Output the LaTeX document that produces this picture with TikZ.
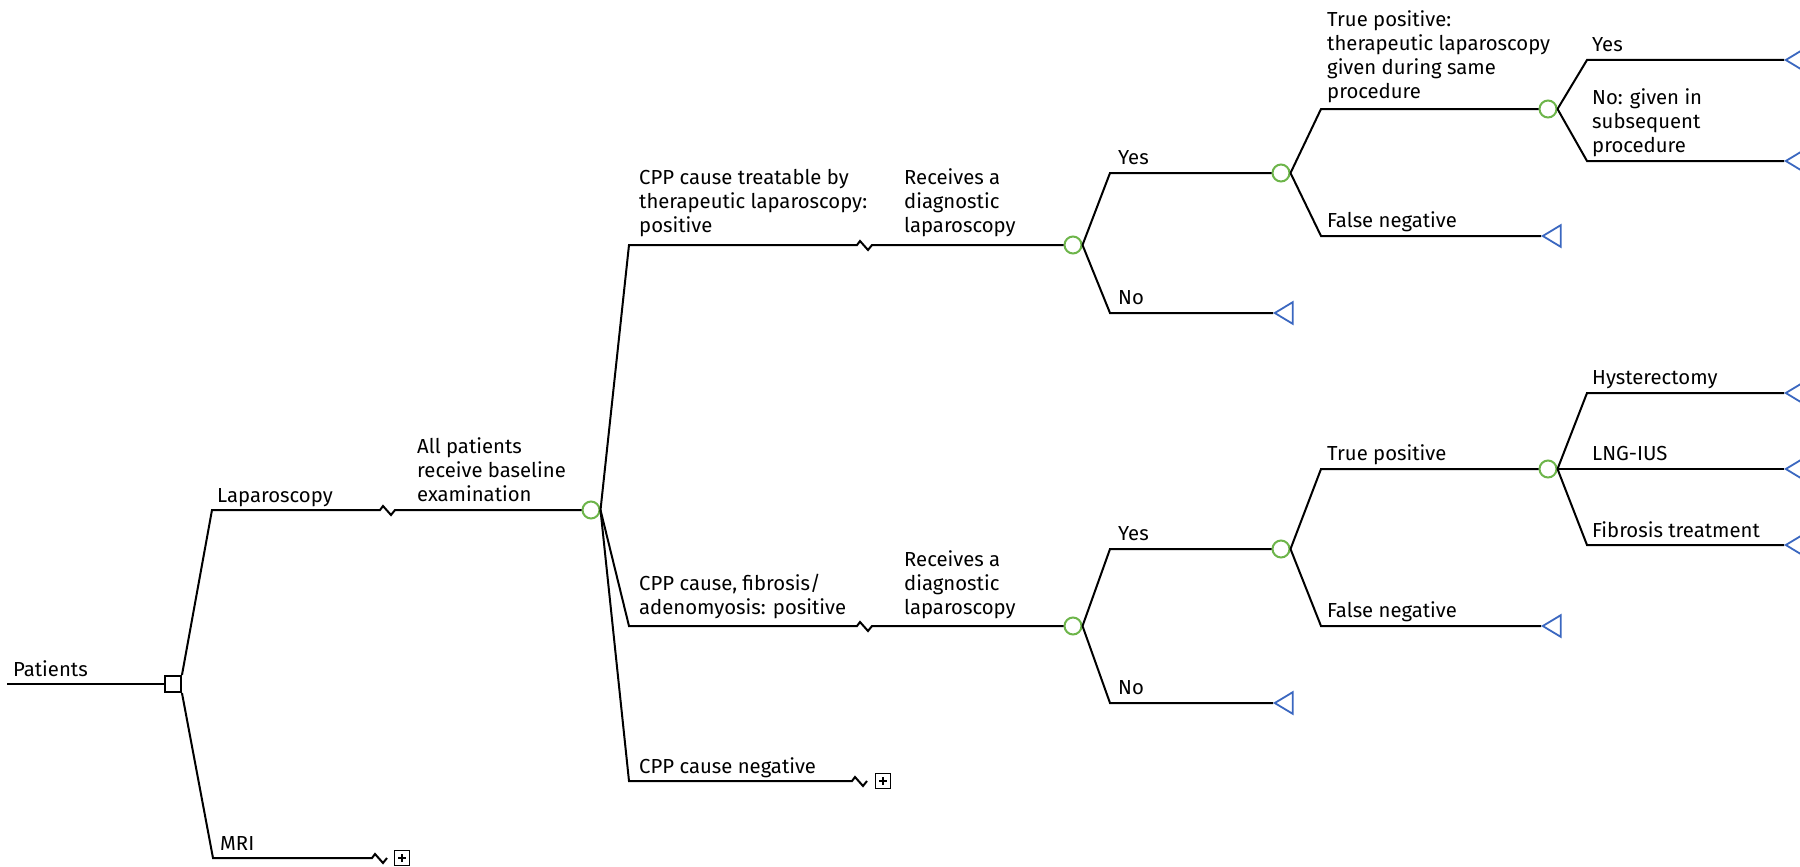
\documentclass[tikz,border=0pt]{standalone}
\usepackage{fontspec}
\setmainfont{Fira Sans}
\usetikzlibrary{shapes.geometric}
\definecolor{cgreen}{HTML}{6DB54A}
\definecolor{tblue}{HTML}{3A67C0}
\begin{document}
\begin{tikzpicture}[x=1pt,y=-1pt,
  edge/.style={line width=2pt},
  chance/.style={circle, draw=cgreen, line width=2pt, fill=white, minimum size=17pt, inner sep=0pt},
  decide/.style={rectangle, draw, line width=1.9pt, fill=white, minimum size=16pt, inner sep=0pt},
  term/.style={isosceles triangle, isosceles triangle apex angle=62, shape border rotate=180,
    draw=tblue, line width=1.8pt, fill=white, inner sep=0pt, minimum height=18pt, anchor=apex},
  subtree/.style={rectangle, draw, line width=1.6pt, minimum size=15pt, inner sep=0pt,
    path picture={\draw[line width=1.5pt]
      ([xshift=-4pt]path picture bounding box.center) -- ([xshift=4pt]path picture bounding box.center)
      ([yshift=-4pt]path picture bounding box.center) -- ([yshift=4pt]path picture bounding box.center);}},
  lbl/.style={anchor=base west, inner sep=0pt, align=left, font=\fontsize{20.3}{24}\selectfont}]
\useasboundingbox (0,0) rectangle (1800,867);

% decision, chance and subtree nodes
\coordinate (start) at (7,684);
\node[decide] (dec) at (173,684) {};
\node[chance] (A) at (591,510) {};
\node[chance] (B) at (1073,245) {};
\node[chance] (C) at (1073,626) {};
\node[chance] (D) at (1281,173) {};
\node[chance] (D2) at (1281,549) {};
\node[chance] (E) at (1548,109) {};
\node[chance] (F) at (1548,469) {};
\node[subtree] (mri) at (402,858) {};
\node[subtree] (neg) at (883,781) {};
\coordinate (mriend) at (387,858);
\coordinate (negend) at (867,781);

% terminal nodes
\node[term] (tBno) at (1273,313) {};
\node[term] (tCno) at (1273,703) {};
\node[term] (tDfn) at (1541,236) {};
\node[term] (tD2fn) at (1541,626) {};
\node[term] (tEyes) at (1784,60) {};
\node[term] (tEno) at (1784,161) {};
\node[term] (tH) at (1784,393) {};
\node[term] (tL) at (1784,469) {};
\node[term] (tFb) at (1784,545) {};

% branches
\draw[edge] (start) -- (dec.west);
\draw[edge] (dec.north east) -- (212,510) -- (380,510) -- ++(3,-4) -- ++(8,9) -- ++(4,-5) -- (A.west);
\draw[edge] (dec.south east) -- (213,858) -- (372,858) -- ++(3,-4) -- ++(8,9) -- ++(4,-5) -- (mriend);

\draw[edge] (A.east) -- (629,245) -- (857,245) -- ++(3,-4) -- ++(8,9) -- ++(4,-5) -- (B.west);
\draw[edge] (A.east) -- (629,626) -- (857,626) -- ++(3,-4) -- ++(8,9) -- ++(4,-5) -- (C.west);
\draw[edge] (A.east) -- (629,781) -- (852,781) -- ++(3,-4) -- ++(8,9) -- ++(4,-5) -- (negend);

\draw[edge] (B.east) -- (1110,173) -- (D.west);
\draw[edge] (B.east) -- (1110,313) -- (tBno.apex);
\draw[edge] (C.east) -- (1110,549) -- (D2.west);
\draw[edge] (C.east) -- (1110,703) -- (tCno.apex);

\draw[edge] (D.east) -- (1321,109) -- (E.west);
\draw[edge] (D.east) -- (1321,236) -- (tDfn.apex);
\draw[edge] (D2.east) -- (1321,469) -- (F.west);
\draw[edge] (D2.east) -- (1321,626) -- (tD2fn.apex);

\draw[edge] (E.east) -- (1587,60) -- (tEyes.apex);
\draw[edge] (E.east) -- (1587,161) -- (tEno.apex);
\draw[edge] (F.east) -- (1587,393) -- (tH.apex);
\draw[edge] (F.east) -- (tL.apex);
\draw[edge] (F.east) -- (1587,545) -- (tFb.apex);

% labels
\node[lbl] (lPat) at (13,676) {Patients};
\node[lbl] (lLap) at (217,502) {Laparoscopy};
\node[lbl] (lMRI) at (220,850) {MRI};
\node[lbl] (lAll) at (417,501) {All patients\\receive baseline\\examination};
\node[lbl] (lTreat) at (639,232) {CPP cause treatable by\\therapeutic laparoscopy:\\positive};
\node[lbl] (lRec1) at (904,232) {Receives a\\diagnostic\\laparoscopy};
\node[lbl] (lFib) at (639,614) {CPP cause, fibrosis/\\adenomyosis: positive};
\node[lbl] (lRec2) at (904,614) {Receives a\\diagnostic\\laparoscopy};
\node[lbl] (lNeg) at (639,773) {CPP cause negative};
\node[lbl] (lY1) at (1118,164) {Yes};
\node[lbl] (lN1) at (1118,304) {No};
\node[lbl] (lY2) at (1118,540) {Yes};
\node[lbl] (lN2) at (1118,694) {No};
\node[lbl] (lTP1) at (1327,99) {True positive:\\therapeutic laparoscopy\\given during same\\procedure};
\node[lbl] (lFN1) at (1327,227) {False negative};
\node[lbl] (lTP2) at (1327,460) {True positive};
\node[lbl] (lFN2) at (1327,617) {False negative};
\node[lbl] (lY3) at (1592,52) {Yes};
\node[lbl] (lNo3) at (1592,152) {No: given in\\subsequent\\procedure};
\node[lbl] (lHys) at (1592,384) {Hysterectomy};
\node[lbl] (lLNG) at (1592,460) {LNG-IUS};
\node[lbl] (lFT) at (1592,537) {Fibrosis treatment};
\end{tikzpicture}
\end{document}
